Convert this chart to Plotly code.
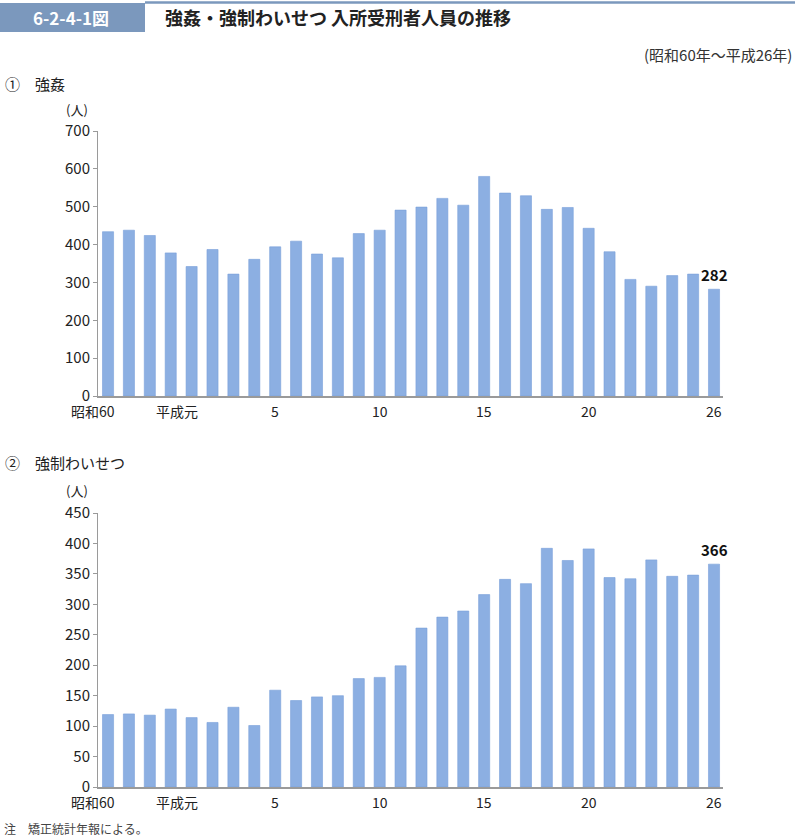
import plotly.graph_objects as go

W, H = 797, 838

# ---- data ----
years = ["昭和60", "61", "62", "63", "平成元"] + [str(i) for i in range(2, 27)]
rape = [434, 438, 424, 378, 342, 387, 322, 361, 394, 409,
        375, 365, 429, 438, 491, 499, 522, 504, 580, 536,
        529, 493, 498, 443, 381, 308, 290, 318, 322, 282]
indecent = [119, 120, 118, 128, 114, 106, 131, 101, 159, 142,
            148, 150, 178, 180, 199, 261, 279, 289, 316, 341,
            334, 392, 372, 391, 344, 342, 373, 346, 348, 366]
tick_labels = ["昭和60", "平成元", "5", "10", "15", "20", "26"]

FONT = "Noto Sans CJK JP, Noto Sans, sans-serif"
BAR = "#8cafe2"
AX = "#9a9a9a"

def py(pix):
    return 1 - pix / H

def px(pix):
    return pix / W

x_dom = [px(98), px(723)]
y1_dom = [py(396), py(131)]
y2_dom = [py(787), py(513)]

idx = list(range(len(years)))

fig = go.Figure()
fig.add_trace(go.Bar(x=idx, y=rape, xaxis="x", yaxis="y", width=0.53,
                     marker=dict(color=BAR, line=dict(color="#79a0da", width=0.6)),
                     hoverinfo="skip", showlegend=False))
fig.add_trace(go.Bar(x=idx, y=indecent, xaxis="x2", yaxis="y2", width=0.53,
                     marker=dict(color=BAR, line=dict(color="#79a0da", width=0.6)),
                     hoverinfo="skip", showlegend=False))

xr = [-0.48, len(years) - 1 + 0.43]
common_x = dict(range=xr, showticklabels=False, ticks="", showgrid=False, zeroline=False,
                showline=True, linecolor=AX, linewidth=1.5, fixedrange=True, automargin=False)
common_y = dict(showgrid=False, zeroline=False, showline=True, linecolor=AX, linewidth=1,
                ticks="outside", ticklen=4, tickcolor=AX, tickwidth=1, automargin=False,
                tickfont=dict(family=FONT, size=15, color="#222"), fixedrange=True)

fig.update_layout(
    width=W, height=H, margin=dict(l=0, r=0, t=0, b=0, pad=0, autoexpand=False),
    paper_bgcolor="white", plot_bgcolor="white",
    font=dict(family=FONT, color="#222"),
    xaxis=dict(domain=x_dom, anchor="y", **common_x),
    yaxis=dict(domain=y1_dom, anchor="x", range=[0, 700], dtick=100, tick0=0, **common_y),
    xaxis2=dict(domain=x_dom, anchor="y2", **common_x),
    yaxis2=dict(domain=y2_dom, anchor="x2", range=[0, 450], dtick=50, tick0=0, **common_y),
    bargap=0.47,
)

ann = []
# x tick labels as annotations (Japanese labels sit slightly left of their bar)
for ax_name, ypix in (("x", 411), ("x2", 802)):
    for lab in tick_labels:
        i = years.index(lab)
        shift = 0 if lab.isdigit() else -15
        ann.append(dict(x=i, y=py(ypix), xref=ax_name, yref="paper", text=lab,
                        showarrow=False, xanchor="center", yanchor="middle", xshift=shift,
                        font=dict(family=FONT, size=14, color="#222")))

# last-value labels
ann.append(dict(x=idx[-1], y=rape[-1], xref="x", yref="y", text="<b>%d</b>" % rape[-1],
                showarrow=False, xanchor="center", yanchor="bottom", yshift=2,
                font=dict(family=FONT, size=15, color="#111")))
ann.append(dict(x=idx[-1], y=indecent[-1], xref="x2", yref="y2", text="<b>%d</b>" % indecent[-1],
                showarrow=False, xanchor="center", yanchor="bottom", yshift=2,
                font=dict(family=FONT, size=15, color="#111")))

# unit labels
for ypix in (110, 490):
    ann.append(dict(x=px(64), y=py(ypix), xref="paper", yref="paper", text="(人)",
                    showarrow=False, xanchor="left", yanchor="middle",
                    font=dict(family=FONT, size=13, color="#222")))

# section titles
ann.append(dict(x=px(3), y=py(83), xref="paper", yref="paper", text="①　強姦",
                showarrow=False, xanchor="left", yanchor="middle",
                font=dict(family=FONT, size=15, color="#222")))
ann.append(dict(x=px(3), y=py(462), xref="paper", yref="paper", text="②　強制わいせつ",
                showarrow=False, xanchor="left", yanchor="middle",
                font=dict(family=FONT, size=15, color="#222")))

# header
ann.append(dict(x=px(71), y=py(17), xref="paper", yref="paper", text="<b>6-2-4-1図</b>",
                showarrow=False, xanchor="center", yanchor="middle",
                font=dict(family=FONT, size=17, color="white")))
ann.append(dict(x=px(163), y=py(17), xref="paper", yref="paper",
                text="<b>強姦・強制わいせつ 入所受刑者人員の推移</b>",
                showarrow=False, xanchor="left", yanchor="middle",
                font=dict(family=FONT, size=18, color="#222")))
ann.append(dict(x=px(794), y=py(55), xref="paper", yref="paper",
                text="(昭和60年〜平成26年)",
                showarrow=False, xanchor="right", yanchor="middle",
                font=dict(family=FONT, size=15, color="#333")))
ann.append(dict(x=px(2), y=py(828), xref="paper", yref="paper",
                text="注　矯正統計年報による。",
                showarrow=False, xanchor="left", yanchor="middle",
                font=dict(family=FONT, size=12, color="#444")))

fig.update_layout(annotations=ann)

fig.update_layout(shapes=[
    dict(type="rect", xref="paper", yref="paper", x0=0, x1=px(145), y0=py(32), y1=py(3),
         fillcolor="#7b98bd", line=dict(width=0), layer="below"),
    dict(type="line", xref="paper", yref="paper", x0=px(145), x1=px(795), y0=py(2.5), y1=py(2.5),
         line=dict(color="#7b98bd", width=2.5)),
])

fig.write_html("out.html")
